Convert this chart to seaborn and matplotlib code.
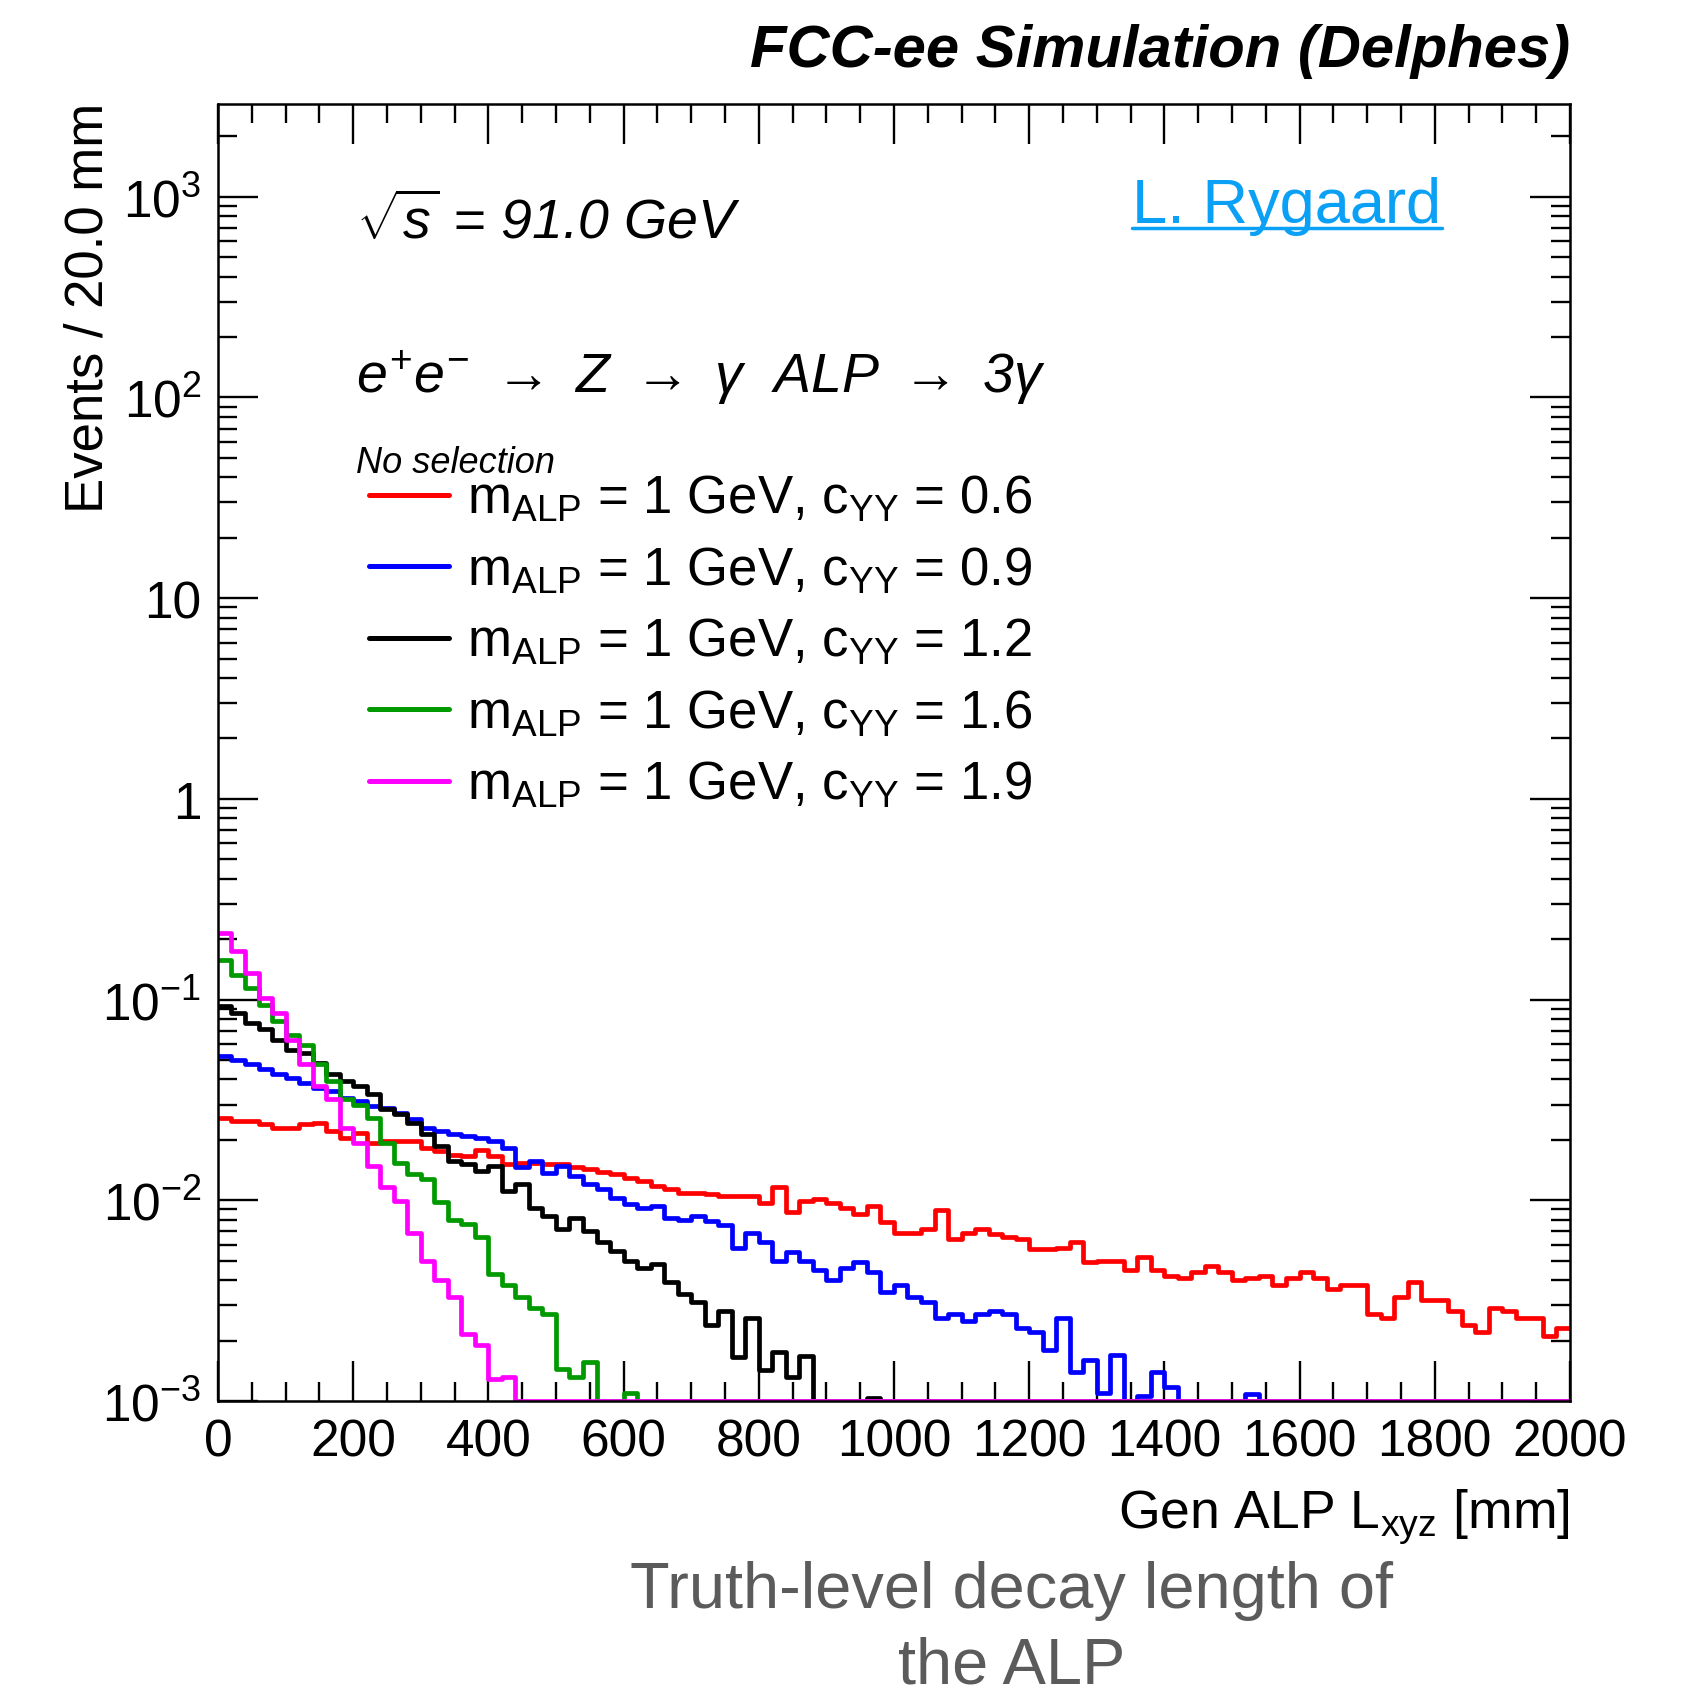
import numpy as np
import pandas as pd
import matplotlib
matplotlib.use("Agg")
import matplotlib.pyplot as plt
import seaborn as sns
from matplotlib.lines import Line2D
from matplotlib.ticker import FixedLocator, FixedFormatter, MultipleLocator, NullFormatter

# DADOS - histogramas de L_xyz (100 bins de 20 mm, 0-2000 mm)

bin_width = 20
x_max = 2000

c_yy_labels = ["0.6", "0.9", "1.2", "1.6", "1.9"]
cores = ["#ff0000", "#0000ff", "#000000", "#009900", "#ff00ff"]

eventos_c06 = [
    0.0258, 0.0248, 0.0248, 0.0239, 0.0230, 0.0230, 0.0239, 0.0244, 0.0221, 0.0205,
    0.0217, 0.0194, 0.0197, 0.0197, 0.0197, 0.0183, 0.0176, 0.0169, 0.0166, 0.0179,
    0.0166, 0.0151, 0.0154, 0.0154, 0.0151, 0.0151, 0.0146, 0.0143, 0.0139, 0.0135,
    0.0129, 0.0125, 0.0118, 0.0114, 0.0109, 0.0109, 0.0107, 0.0105, 0.0105, 0.0105,
    0.0097, 0.0116, 0.0087, 0.0099, 0.0101, 0.0097, 0.0092, 0.0085, 0.0094, 0.0078,
    0.0069, 0.0069, 0.0072, 0.0089, 0.0064, 0.0069, 0.0072, 0.0068, 0.0066, 0.0064,
    0.0057, 0.0057, 0.0058, 0.0062, 0.0049, 0.0050, 0.0050, 0.0045, 0.0052, 0.0045,
    0.0042, 0.0041, 0.0044, 0.0047, 0.0044, 0.0040, 0.0041, 0.0042, 0.0038, 0.0041,
    0.0044, 0.0041, 0.0036, 0.0038, 0.0038, 0.0027, 0.0026, 0.0033, 0.0039, 0.0032,
    0.0032, 0.0028, 0.0024, 0.0022, 0.0029, 0.0028, 0.0026, 0.0026, 0.0021, 0.0023,
]
eventos_c09 = [
    0.0522, 0.0503, 0.0475, 0.0449, 0.0424, 0.0408, 0.0385, 0.0364, 0.0350, 0.0324,
    0.0312, 0.0295, 0.0289, 0.0273, 0.0253, 0.0230, 0.0221, 0.0213, 0.0209, 0.0205,
    0.0197, 0.0183, 0.0146, 0.0157, 0.0137, 0.0148, 0.0132, 0.0120, 0.0114, 0.0103,
    0.0096, 0.0092, 0.0094, 0.0082, 0.0080, 0.0084, 0.0079, 0.0075, 0.0058, 0.0069,
    0.0062, 0.0050, 0.0055, 0.0050, 0.0045, 0.0040, 0.0046, 0.0049, 0.0044, 0.0035,
    0.0038, 0.0033, 0.0031, 0.0026, 0.0027, 0.0025, 0.0027, 0.0028, 0.0027, 0.0023,
    0.0022, 0.0018, 0.0026, 0.0014, 0.0016, 0.0011, 0.0017, 0.0, 0.00106, 0.0014,
    0.00117, 0.0, 0.0, 0.0, 0.0, 0.0, 0.00108, 0.0, 0.0, 0.0,
    0.0, 0.0, 0.0, 0.0, 0.0, 0.0, 0.0, 0.0, 0.0, 0.0,
    0.0, 0.0, 0.0, 0.0, 0.0, 0.0, 0.0, 0.0, 0.0, 0.0,
]
eventos_c12 = [
    0.0927, 0.0860, 0.0766, 0.0710, 0.0630, 0.0564, 0.0543, 0.0484, 0.0424, 0.0392,
    0.0370, 0.0337, 0.0284, 0.0268, 0.0244, 0.0213, 0.0186, 0.0157, 0.0151, 0.0140,
    0.0148, 0.0111, 0.0120, 0.0092, 0.0084, 0.0072, 0.0082, 0.0070, 0.0062, 0.0056,
    0.0050, 0.0046, 0.0048, 0.0039, 0.0034, 0.0031, 0.0024, 0.0028, 0.00165, 0.0026,
    0.00142, 0.00175, 0.00131, 0.00168, 0.0, 0.0, 0.0, 0.0, 0.00104, 0.0,
] + [0.0] * 50
eventos_c16 = [
    0.158, 0.133, 0.114, 0.094, 0.078, 0.067, 0.0597, 0.0475, 0.0393, 0.0318,
    0.0300, 0.0258, 0.0194, 0.0154, 0.0135, 0.0127, 0.0098, 0.0080, 0.0076, 0.0066,
    0.0043, 0.0038, 0.0033, 0.0029, 0.0027, 0.00144, 0.00132, 0.00156, 0.0, 0.0,
    0.0011,
] + [0.0] * 69
eventos_c19 = [
    0.215, 0.174, 0.136, 0.102, 0.086, 0.063, 0.048, 0.037, 0.0318, 0.0230,
    0.0194, 0.0148, 0.0116, 0.0099, 0.0069, 0.0050, 0.0040, 0.0033, 0.00215, 0.0019,
    0.00129, 0.00132,
] + [0.0] * 78

series = [eventos_c06, eventos_c09, eventos_c12, eventos_c16, eventos_c19]

y_min, y_max = 1e-3, 2900

y_ticks = [1e-3, 1e-2, 1e-1, 1, 10, 1e2, 1e3]
y_tick_labels = [r"$10^{-3}$", r"$10^{-2}$", r"$10^{-1}$", "1", "10", r"$10^{2}$", r"$10^{3}$"]

# ESTILO

sns.set_style("ticks")
plt.rcParams["font.family"] = ["Liberation Sans", "DejaVu Sans"]
plt.rcParams["mathtext.fontset"] = "custom"
plt.rcParams["mathtext.rm"] = "Liberation Sans"
plt.rcParams["mathtext.it"] = "Liberation Sans:italic"
plt.rcParams["mathtext.bf"] = "Liberation Sans:bold"
plt.rcParams["mathtext.sf"] = "Liberation Sans"
for chave in ["text.color", "axes.labelcolor", "xtick.color", "ytick.color", "axes.edgecolor"]:
    plt.rcParams[chave] = "black"

fig = plt.figure(figsize=(16.91, 16.90), dpi=100)
ax = fig.add_axes([0.1289, 0.1704, 0.7995, 0.7675])

n_bins = len(eventos_c06)
centros = bin_width * (np.arange(n_bins) + 0.5)

for valores, cor in zip(series, cores):
    # bins vazios ficam no piso do eixo (como no ROOT)
    df = pd.DataFrame({"L": centros, "w": np.clip(np.array(valores), y_min, None)})
    sns.histplot(data=df, x="L", weights="w", bins=n_bins, binrange=(0, x_max),
                 element="step", fill=False, color=cor, linewidth=3.4, ax=ax)

ax.set_yscale("log")
ax.set_xlim(0, x_max)
ax.set_ylim(y_min, y_max)

# eixos estilo ROOT
for s in ax.spines.values():
    s.set_linewidth(1.8)
ax.xaxis.set_major_locator(MultipleLocator(200))
ax.xaxis.set_minor_locator(MultipleLocator(50))
ax.yaxis.set_major_locator(FixedLocator(y_ticks))
ax.yaxis.set_major_formatter(FixedFormatter(y_tick_labels))
minors = [m * 10.0 ** e for e in range(-3, 4) for m in range(2, 10)]
ax.yaxis.set_minor_locator(FixedLocator(minors))
ax.yaxis.set_minor_formatter(NullFormatter())
ax.tick_params(which="both", direction="in", top=True, right=True, width=1.7)
ax.tick_params(which="major", length=29)
ax.tick_params(which="minor", length=14)
ax.tick_params(axis="x", which="major", labelsize=37, pad=12)
ax.tick_params(axis="y", which="major", labelsize=37, pad=12)

ax.set_ylabel("Events / 20.0 mm", fontsize=38, loc="top")
ax.yaxis.set_label_coords(-0.077, 1.002)
ax.set_xlabel(r"Gen ALP L$_{\mathrm{xyz}}$ [mm]", fontsize=38.5, loc="right")
ax.xaxis.set_label_coords(1.0, -0.066)

# LEGENDA
handles = [Line2D([], [], color=c, linewidth=3.6) for c in cores]
labels = [r"m$_{\mathrm{ALP}}$ = 1 GeV, c$_{\mathrm{YY}}$ = " + v for v in c_yy_labels]
ax.legend(handles, labels, loc="upper left", bbox_to_anchor=(0.112, 0.715),
          frameon=False, fontsize=38, handlelength=1.5, handletextpad=0.35,
          labelspacing=0.4, borderpad=0, borderaxespad=0)

ax.text(0.102, 0.7232, "No selection", transform=ax.transAxes, fontsize=26,
        style="italic", va="center", ha="left")
ax.text(0.102, 0.909, r"$\sqrt{s}$ = 91.0 GeV", transform=ax.transAxes, fontsize=40,
        style="italic", va="center", ha="left")
ax.text(0.102, 0.790,
        r"$e^{+}e^{-}$ $\rightarrow$ $Z$ $\rightarrow$ $\gamma$  ALP $\rightarrow$ 3$\gamma$",
        transform=ax.transAxes, fontsize=40, style="italic", va="center", ha="left")

fig.text(0.9284, 0.9604, "FCC-ee Simulation (Delphes)", fontsize=43, fontweight="bold",
         style="italic", ha="right", va="baseline")

fig.text(0.6694, 0.878, "L. Rygaard", fontsize=45.5, color="#0aa0f5", ha="left", va="center")
fig.add_artist(Line2D([0.6694, 0.8527], [0.8645, 0.8645], color="#0aa0f5", linewidth=2.5,
                      transform=fig.transFigure))

fig.text(0.598, 0.0586, "Truth-level decay length of", fontsize=46.7, color="#5b5b5b",
         ha="center", va="center")
fig.text(0.598, 0.0142, "the ALP", fontsize=46.7, color="#5b5b5b", ha="center", va="center")

fig.savefig("out.png", dpi=100, facecolor="white")
